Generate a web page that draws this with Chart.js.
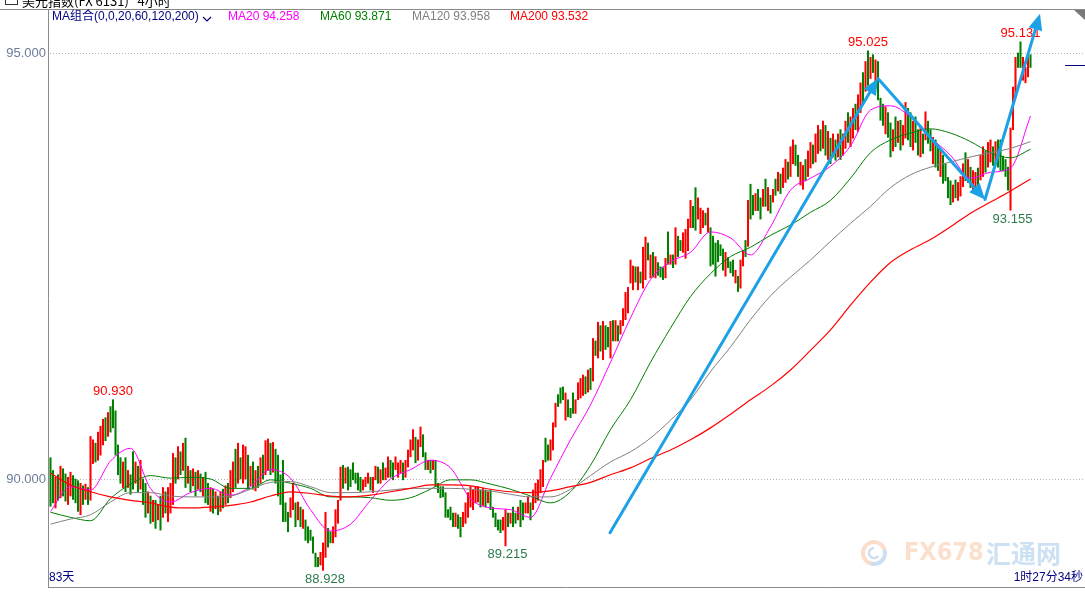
<!DOCTYPE html>
<html lang="zh">
<head>
<meta charset="UTF-8">
<title>美元指数 4小时</title>
<script src="https://cdn.jsdelivr.net/npm/chart.js@4.4.0/dist/chart.umd.min.js"></script>
<style>
  html, body { margin: 0; padding: 0; background: #fff; }
  #wrap { width: 1085px; height: 592px; }
</style>
</head>
<body>
<div id="wrap"><canvas id="kline" width="1085" height="592"></canvas></div>
<script>
// 4h bars: low / high, and r = up (red), g = down (green)
const low = [
  89.68,89.72,89.66,89.75,89.78,89.80,89.74,89.70,89.80,89.76,
  89.72,89.62,89.58,89.70,89.76,89.70,89.75,90.18,90.20,90.22,
  90.28,90.40,90.45,90.50,90.55,90.60,90.28,90.05,89.95,89.90,
  89.85,89.90,89.82,89.88,89.95,89.85,89.88,89.70,89.55,89.60,
  89.48,89.50,89.42,89.52,89.40,89.55,89.60,89.50,89.60,89.70,
  89.95,90.00,90.05,90.10,89.90,89.95,89.85,89.92,89.80,89.88,
  89.85,89.80,89.72,89.70,89.62,89.60,89.65,89.58,89.62,89.66,
  89.70,89.72,89.78,89.85,89.90,89.95,90.00,89.95,90.00,89.88,
  89.92,89.88,89.86,89.90,89.95,90.00,90.05,90.10,90.05,90.08,
  89.95,89.80,89.70,89.50,89.50,89.38,89.55,89.64,89.44,89.52,
  89.44,89.42,89.28,89.25,89.28,89.13,88.97,88.97,88.99,88.928,
  89.08,89.20,89.25,89.25,89.32,89.48,89.75,89.89,89.95,89.87,
  89.91,89.99,89.95,89.87,89.85,89.87,89.91,89.95,89.87,89.84,
  89.99,89.95,89.95,89.99,89.99,90.02,90.02,89.99,90.11,90.02,
  90.07,89.99,90.02,90.14,90.26,90.34,90.19,90.22,90.38,90.26,
  90.11,90.11,90.07,90.11,89.91,89.84,89.78,89.79,89.55,89.55,
  89.52,89.44,89.44,89.42,89.32,89.44,89.48,89.55,89.67,89.64,
  89.72,89.73,89.67,89.69,89.67,89.72,89.64,89.55,89.44,89.40,
  89.37,89.40,89.215,89.44,89.48,89.44,89.48,89.52,89.44,89.52,
  89.60,89.60,89.52,89.64,89.72,89.75,89.84,89.91,90.20,90.22,
  90.22,90.34,90.61,90.85,90.89,90.93,90.69,90.73,90.72,90.77,
  90.77,90.93,90.95,90.98,91.00,91.02,91.05,91.15,91.45,91.42,
  91.50,91.40,91.52,91.55,91.42,91.62,91.62,91.62,91.70,91.80,
  91.87,91.95,92.30,92.22,92.31,92.22,92.30,92.24,92.34,92.57,
  92.36,92.37,92.36,92.39,92.37,92.34,92.36,92.52,92.52,92.48,
  92.52,92.61,92.68,92.66,92.59,92.68,92.95,92.95,92.92,93.05,
  92.88,92.95,92.98,92.90,92.50,92.52,92.38,92.55,92.62,92.45,
  92.38,92.48,92.42,92.38,92.30,92.20,92.24,92.50,92.61,92.73,
  93.05,93.10,93.15,93.15,93.05,93.20,93.20,93.15,93.12,93.25,
  93.33,93.38,93.35,93.42,93.48,93.52,93.55,93.70,93.68,93.55,
  93.45,93.40,93.50,93.55,93.65,93.70,93.72,93.82,93.85,93.88,
  93.80,93.75,93.70,93.78,93.74,93.78,93.75,93.80,93.88,93.95,
  93.90,94.00,94.10,94.08,94.30,94.40,94.55,94.62,94.70,94.77,
  94.65,94.45,94.21,94.15,94.05,94.01,93.78,93.85,93.90,93.95,
  93.86,93.92,94.00,93.98,93.90,93.86,93.95,93.80,93.78,93.82,
  93.98,93.94,93.85,93.70,93.66,93.62,93.55,93.47,93.50,93.30,
  93.22,93.25,93.30,93.27,93.32,93.43,93.50,93.48,93.42,93.39,
  93.40,93.45,93.51,93.55,93.60,93.66,93.72,93.68,93.70,93.66,
  93.62,93.62,93.55,93.39,93.155,94.10,94.48,94.83,94.83,94.68,
  94.65,94.72,94.83
];
const high = [
  90.25,90.10,90.02,90.05,90.15,90.12,90.06,90.02,90.08,90.04,
  90.00,89.98,89.95,89.92,89.94,89.90,90.50,90.46,90.42,90.55,
  90.62,90.70,90.72,90.78,90.85,90.93,90.80,90.40,90.25,90.20,
  90.25,90.10,90.05,90.32,90.20,90.15,90.22,90.00,89.95,89.85,
  89.80,89.75,89.75,89.70,89.80,89.90,89.85,89.90,89.95,90.30,
  90.25,90.38,90.32,90.42,90.48,90.15,90.10,90.12,90.08,90.10,
  90.06,90.02,90.08,89.95,89.90,89.88,89.85,89.80,89.85,89.88,
  89.92,89.95,90.10,90.20,90.35,90.42,90.25,90.40,90.38,90.28,
  90.15,90.20,90.10,90.15,90.25,90.28,90.45,90.47,90.42,90.43,
  90.35,90.28,90.05,90.22,89.72,89.61,89.78,89.95,89.72,89.73,
  89.67,89.64,89.52,89.44,89.40,89.32,89.13,89.08,89.14,89.25,
  89.61,89.42,89.38,89.44,89.64,89.75,90.14,90.16,90.13,90.14,
  90.11,90.19,90.07,90.07,90.02,89.99,90.02,90.07,90.02,90.02,
  90.15,90.14,90.11,90.19,90.13,90.26,90.22,90.19,90.26,90.19,
  90.22,90.19,90.22,90.34,90.46,90.58,90.49,90.46,90.61,90.52,
  90.31,90.22,90.22,90.22,90.22,89.95,89.91,89.91,89.84,89.64,
  89.67,89.60,89.60,89.58,89.55,89.61,89.72,89.84,89.91,89.87,
  89.91,89.91,89.87,89.89,89.87,89.85,89.87,89.67,89.60,89.52,
  89.52,89.55,89.64,89.60,89.60,89.67,89.60,89.67,89.75,89.72,
  89.72,89.79,89.72,89.87,89.95,89.99,90.11,90.22,90.48,90.40,
  90.46,90.66,90.89,90.99,91.07,91.08,91.01,90.93,90.83,91.01,
  90.93,91.13,91.18,91.22,91.20,91.28,91.30,91.65,91.62,91.84,
  91.80,91.85,91.80,91.78,91.85,91.86,91.86,91.80,91.86,92.00,
  92.19,92.25,92.57,92.50,92.49,92.49,92.43,92.72,92.84,92.77,
  92.63,92.66,92.61,92.54,92.49,92.48,92.59,92.90,92.63,92.63,
  92.95,92.85,92.80,92.89,92.93,93.05,93.27,93.20,93.42,93.30,
  93.18,93.15,93.12,93.18,92.95,92.85,92.77,92.80,92.75,92.70,
  92.66,92.60,92.55,92.57,92.45,92.38,92.57,92.68,92.80,93.27,
  93.46,93.33,93.35,93.40,93.30,93.40,93.52,93.42,93.33,93.40,
  93.52,93.60,93.58,93.65,93.75,93.72,93.90,93.98,93.92,93.80,
  93.72,93.68,93.75,93.85,93.95,93.92,94.05,94.15,94.10,94.20,
  94.15,94.08,94.00,94.05,93.98,94.05,94.10,94.05,94.20,94.30,
  94.25,94.35,94.40,94.51,94.65,94.77,94.90,95.025,94.95,94.98,
  94.92,94.90,94.47,94.40,94.37,94.30,94.18,94.10,94.25,94.20,
  94.21,94.15,94.42,94.35,94.30,94.20,94.25,94.10,94.13,94.05,
  94.31,94.20,94.10,94.01,93.98,93.90,93.86,93.80,93.70,93.54,
  93.50,93.45,93.51,93.48,93.55,93.70,93.83,93.75,93.66,93.62,
  93.60,93.65,93.80,93.90,93.85,93.95,93.98,93.90,93.96,93.98,
  93.98,93.79,93.75,93.66,94.12,94.60,94.95,95.00,95.131,94.95,
  94.83,94.95,94.98
];
const dir = ('ggrgrggrrg ggrgrgrrgr rrgrgggggr grggrgrggr grgrgrgrrr grgrgrgrgr ' +
  'grggrgrgrg rgrrgrgrrg rgrgrgrrgr ggggggrrgr grggggggrr rggrrrrgrg ' +
  'gggggrrrgr rgrgrrggrr rgrrrrgrrg grgrgggggg ggrggrrrrr rrgrgrgggg ' +
  'grrgrggrgg rrgrrrrrgg rrrgggrggg rrrrgrgrgr grggrgrgrr rrrrgrgrrg ' +
  'rgrgggrgrg rggrrrrggr rrgrgggggg rgggrgrrgr ggrggrgrgr grgrrgrrgg ' +
  'rrgrrgrrgr grgrgrgrrg rrgrrgrgrg rgggrggrgr grrggrggrg rggrggrggg ' +
  'grgrrrgrgr rgrrgrrgrg ggggrrrggr rrg').replace(/ /g, '').split('');

// moving averages, read every 8 bars
const maIdx = [0,8,16,24,32,40,48,56,64,72,80,88,96,104,112,120,128,136,144,152,
  160,168,176,184,192,200,208,216,224,232,240,248,256,264,272,280,288,296,304,312,
  320,328,336,344,352,360,368,376,384,392];
const ma20 = [89.62,89.91,89.87,90.21,90.36,89.89,89.73,89.84,89.89,89.81,
  89.91,90.11,90.01,89.64,89.39,89.47,89.75,90.00,90.11,90.22,
  90.13,89.77,89.66,89.64,89.55,90.01,90.46,90.87,91.37,91.89,
  92.34,92.55,92.66,92.90,92.83,92.63,92.96,93.39,93.53,93.67,
  93.91,94.33,94.38,94.25,94.01,93.80,93.53,93.60,93.65,94.26];
const ma60 = [89.61,89.55,89.51,89.77,89.94,90.04,90.01,90.02,90.00,89.89,
  89.89,89.99,89.95,89.89,89.79,89.79,89.78,89.75,89.78,89.88,
  89.99,89.99,89.94,89.88,89.80,89.72,89.85,90.16,90.58,90.93,
  91.37,91.77,92.14,92.41,92.61,92.72,92.86,92.98,93.13,93.27,
  93.53,93.83,93.98,94.06,94.11,94.06,93.96,93.83,93.77,93.87];
const ma120 = [89.47,89.53,89.58,89.73,89.84,89.84,89.80,89.79,89.79,89.80,
  89.88,89.96,89.97,89.91,89.84,89.84,89.85,89.87,89.89,89.89,
  89.89,89.88,89.86,89.82,89.79,89.79,89.88,90.04,90.20,90.32,
  90.48,90.69,90.93,91.26,91.55,91.87,92.15,92.37,92.57,92.79,
  93.00,93.20,93.42,93.57,93.66,93.72,93.78,93.83,93.88,93.96];
const ma200 = [90.07,89.93,89.85,89.79,89.75,89.72,89.67,89.66,89.67,89.69,
  89.73,89.80,89.85,89.83,89.80,89.79,89.81,89.85,89.89,89.93,
  89.93,89.92,89.88,89.85,89.84,89.86,89.91,89.96,90.05,90.13,
  90.24,90.34,90.46,90.60,90.76,90.93,91.09,91.28,91.51,91.75,
  92.04,92.31,92.54,92.69,92.81,92.96,93.12,93.25,93.38,93.52];
const maNames = ['MA20', 'MA60', 'MA120', 'MA200'];
const maLast = [94.258, 93.871, 93.958, 93.532];

const yTicks = [90, 95];
const highMarks = [25, 327, 388];   // bars whose high gets a label
const lowMarks = [109, 182, 384];   // bars whose low gets a label
const lastPrice = 94.86;
// hand-drawn trend arrows: [bar index, price]
const arrowPath = [[223.8, 89.37], [331, 94.70], [373.8, 93.28], [395.8, 95.46]];

const UP = '#ff0000', DOWN = '#008000';
const NUM_FONT = '13px "Liberation Sans", Arial, sans-serif';
const CJK_FONT = '"Liberation Sans", "Noto Sans CJK SC", sans-serif';

function arrow(ctx, x1, y1, x2, y2) {
  const ang = Math.atan2(y2 - y1, x2 - x1);
  const len = 16, half = 7;
  const bx = x2 - len * Math.cos(ang), by = y2 - len * Math.sin(ang);
  ctx.beginPath();
  ctx.moveTo(x1, y1);
  ctx.lineTo(bx, by);
  ctx.stroke();
  ctx.beginPath();
  ctx.moveTo(x2, y2);
  ctx.lineTo(bx + half * Math.sin(ang), by - half * Math.cos(ang));
  ctx.lineTo(bx - half * Math.sin(ang), by + half * Math.cos(ang));
  ctx.closePath();
  ctx.fill();
}

const decor = {
  id: 'decor',
  beforeDraw(chart) {
    const { ctx, chartArea: a, scales: { y } } = chart;
    ctx.save();
    ctx.fillStyle = '#fff';
    ctx.fillRect(0, 0, chart.width, chart.height);

    // watermark
    ctx.globalAlpha = 0.45;
    ctx.lineWidth = 4;
    ctx.strokeStyle = '#f6b48c';
    ctx.beginPath(); ctx.arc(874, 553, 11, Math.PI * 0.6, Math.PI * 1.9); ctx.stroke();
    ctx.strokeStyle = '#8fb6dc';
    ctx.beginPath(); ctx.arc(874, 553, 11, Math.PI * 1.9, Math.PI * 2.6); ctx.stroke();
    ctx.lineWidth = 2.5;
    ctx.beginPath(); ctx.arc(874, 553, 5, Math.PI * 0.2, Math.PI * 1.5); ctx.stroke();
    ctx.textBaseline = 'middle';
    ctx.textAlign = 'left';
    ctx.font = 'bold 25px "DejaVu Sans Condensed", "Liberation Sans", sans-serif';
    ctx.fillStyle = '#f9b98d';
    ctx.fillText('FX678', 904, 553);
    ctx.font = 'bold 25px "Noto Sans CJK SC", sans-serif';
    ctx.fillStyle = '#8dbce6';
    ctx.fillText('汇通网', 986, 553);
    ctx.globalAlpha = 1;

    // dotted price grid
    ctx.strokeStyle = '#b4b4b4';
    ctx.lineWidth = 1;
    ctx.setLineDash([1, 2]);
    yTicks.forEach(v => {
      const py = Math.round(y.getPixelForValue(v)) + 0.5;
      ctx.beginPath(); ctx.moveTo(a.left + 2, py); ctx.lineTo(a.right, py); ctx.stroke();
    });
    ctx.restore();
  },
  afterDraw(chart) {
    const { ctx, chartArea: a, scales: { x, y } } = chart;
    ctx.save();

    // frame
    ctx.strokeStyle = '#8a8a8a';
    ctx.lineWidth = 1;
    ctx.beginPath();
    ctx.moveTo(0, a.top + 0.5); ctx.lineTo(chart.width, a.top + 0.5);
    ctx.moveTo(a.left + 0.5, a.top); ctx.lineTo(a.left + 0.5, a.bottom);
    ctx.moveTo(a.left, a.bottom - 0.5); ctx.lineTo(chart.width, a.bottom - 0.5);
    ctx.stroke();
    ctx.fillStyle = '#7a7a7a';
    ctx.beginPath();
    ctx.moveTo(chart.width - 11, a.top + 1); ctx.lineTo(chart.width, a.top + 1); ctx.lineTo(chart.width, a.top + 11);
    ctx.closePath(); ctx.fill();

    // title strip (cut off at the top)
    ctx.fillStyle = '#000';
    ctx.font = '13px "Noto Sans CJK SC", sans-serif';
    ctx.textBaseline = 'middle';
    ctx.textAlign = 'left';
    ctx.fillText('美元指数(FX 6131)   4小时', 22, 1);
    ctx.strokeStyle = '#333';
    ctx.strokeRect(5.5, -4.5, 12, 9);

    // y tick labels
    ctx.font = NUM_FONT;
    ctx.fillStyle = '#6b7c99';
    ctx.textAlign = 'right';
    yTicks.forEach(v => ctx.fillText(v.toFixed(3), a.left - 2, y.getPixelForValue(v)));

    // MA legend
    ctx.textAlign = 'left';
    ctx.font = '12px ' + CJK_FONT;
    ctx.fillStyle = '#000080';
    ctx.fillText('MA组合(0,0,20,60,120,200)', 52, 17);
    ctx.strokeStyle = '#000080';
    ctx.lineWidth = 1.2;
    ctx.beginPath(); ctx.moveTo(203, 17); ctx.lineTo(207, 21); ctx.lineTo(211, 17); ctx.stroke();
    const maColors = ['#ff00ff', '#008000', '#808080', '#ff0000'];
    const legendX = [228, 320, 412, 510];
    maNames.forEach((n, k) => {
      ctx.fillStyle = maColors[k];
      ctx.fillText(n + ' ' + maLast[k].toFixed(3), legendX[k], 17);
    });

    // high / low labels
    ctx.font = NUM_FONT;
    ctx.textAlign = 'center';
    ctx.fillStyle = '#ff0000';
    highMarks.forEach(i => ctx.fillText(high[i].toFixed(3), x.getPixelForValue(i), y.getPixelForValue(high[i]) - 8));
    ctx.fillStyle = '#2b7a4b';
    lowMarks.forEach(i => ctx.fillText(low[i].toFixed(3), x.getPixelForValue(i) + 2, y.getPixelForValue(low[i]) + 9));

    // last price marker at the right edge
    const lp = Math.round(y.getPixelForValue(lastPrice)) + 0.5;
    ctx.strokeStyle = '#000080';
    ctx.lineWidth = 1;
    ctx.beginPath(); ctx.moveTo(1065, lp); ctx.lineTo(chart.width, lp); ctx.stroke();

    // trend arrows
    ctx.strokeStyle = '#1ba1e6';
    ctx.fillStyle = '#1ba1e6';
    ctx.lineWidth = 3;
    ctx.lineCap = 'round';
    for (let k = 0; k < arrowPath.length - 1; k++) {
      const p = arrowPath[k], q = arrowPath[k + 1];
      arrow(ctx, x.getPixelForValue(p[0]), y.getPixelForValue(p[1]),
        x.getPixelForValue(q[0]), y.getPixelForValue(q[1]));
    }

    // footer
    ctx.font = '12px ' + CJK_FONT;
    ctx.fillStyle = '#000080';
    ctx.textAlign = 'left';
    ctx.fillText('83天', 49, 578);
    ctx.textAlign = 'right';
    ctx.fillText('1时27分34秒', 1083, 578);
    ctx.restore();
  }
};

function maSet(vals, color, width) {
  return {
    type: 'line',
    data: maIdx.map((i, k) => ({ x: i, y: vals[k] })),
    borderColor: color,
    borderWidth: width,
    pointRadius: 0,
    cubicInterpolationMode: 'monotone',
    order: 1
  };
}

new Chart(document.getElementById('kline'), {
  type: 'bar',
  data: {
    datasets: [
      {
        type: 'bar',
        data: high.map((h, i) => ({ x: i, y: [low[i], h] })),
        backgroundColor: dir.map(d => d === 'r' ? UP : DOWN),
        barThickness: 1.4,
        grouped: false,
        order: 10
      },
      maSet(ma200, '#ff0000', 1.2),
      maSet(ma120, '#808080', 1),
      maSet(ma60, '#008000', 1),
      maSet(ma20, '#ff00ff', 1)
    ]
  },
  options: {
    responsive: false,
    animation: false,
    events: [],
    layout: { padding: { left: 48, top: 9, right: 0, bottom: 4 } },
    scales: {
      x: { type: 'linear', min: -1, max: 413.8, offset: false, display: false },
      y: { min: 88.7206, max: 95.5164, display: false }
    },
    plugins: { legend: { display: false }, tooltip: { enabled: false } }
  },
  plugins: [decor]
});
</script>
</body>
</html>
